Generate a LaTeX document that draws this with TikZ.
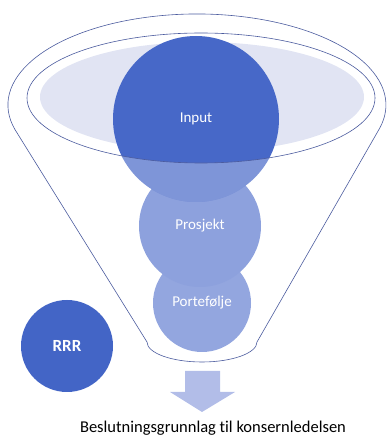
\documentclass[tikz,border=0pt]{standalone}
\usepackage{fontspec}
\setmainfont[Ligatures=NoCommon]{Carlito}
\definecolor{rimline}{HTML}{4B5B9E}
\definecolor{rimfill}{HTML}{E1E4F3}
\definecolor{inputblue}{HTML}{4768C8}
\definecolor{lightblue}{HTML}{8DA1DD}
\definecolor{paleblue}{HTML}{93A6DF}
\definecolor{rrrblue}{HTML}{4365C6}
\definecolor{arrowblue}{HTML}{B2BDE8}
\tikzset{
  ball/.style={circle, inner sep=0pt, text=white, font=\fontsize{15}{18}\selectfont}
}

\begin{document}
\begin{tikzpicture}[x=1pt, y=1pt]
      \useasboundingbox (0,0) rectangle (387,437);
      \draw[rimline, line width=0.6pt] (147,95) -- (15,307.4)
        arc[start angle=195.7, end angle=-15.7, x radius=189, y radius=91]
        -- (257,95) arc[start angle=0, end angle=-180, x radius=55, y radius=20] -- cycle;
      \fill[rimfill] (202,340) ellipse [x radius=162, y radius=55];
      \node[ball, fill=paleblue, minimum size=98pt] (portefolje) at (202,134) {Portefølje};
      \node[ball, fill=lightblue, minimum size=122pt] (prosjekt) at (200,211) {Prosjekt};
      \node[ball, fill=inputblue, minimum size=166pt] (input) at (196,318) {};
      \begin{scope}
        \clip (196,318) circle (83);
        \fill[white, opacity=0.3, even odd rule] (201,339) ellipse [x radius=174, y radius=65] (0,0) rectangle (387,437);
      \end{scope}
      \node[text=white, font=\fontsize{15}{18}\selectfont] (inputlabel) at (input.center) {Input};
      \draw[rimline, line width=0.6pt] (201,339) ellipse [x radius=174, y radius=65];
      \node[ball, fill=rrrblue, minimum size=92pt, font=\fontsize{17}{20}\selectfont\bfseries] (rrr) at (67,91) {RRR};
      \fill[arrowblue] (185,66) -- (220,66) -- (220,45) -- (235,45) -- (202,25) -- (170,45) -- (185,45) -- cycle;
      \node[anchor=base, font=\fontsize{16.5}{19}\selectfont] (conclusion) at (213,5) {Beslutningsgrunnlag til konsernledelsen};
    \end{tikzpicture}
\end{document}
